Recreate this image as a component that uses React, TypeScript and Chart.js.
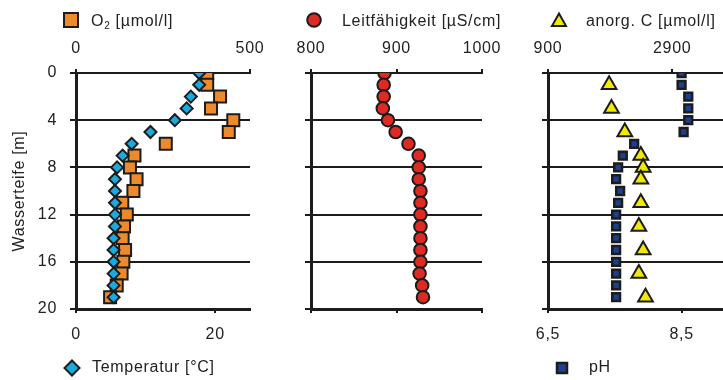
import React, { useEffect, useRef } from 'react';
import { Chart, registerables } from 'chart.js';

Chart.register(...registerables);

// ---- data ----
const DEPTH = [0, 1, 2, 3, 4, 5, 6, 7, 8, 9, 10, 11, 12, 13, 14, 15, 16, 17, 18, 19];
const DEPTH_TICKS = [0, 4, 8, 12, 16, 20];

const O2_UMOL = [377, 377, 414, 388, 452, 439, 258, 168, 155, 174, 165, 133, 146, 138, 134, 141, 136, 131, 117, 98];
const TEMP_C = [17.7, 17.7, 16.5, 15.9, 14.2, 10.7, 8.0, 6.7, 5.9, 5.6, 5.6, 5.6, 5.6, 5.6, 5.4, 5.4, 5.4, 5.4, 5.4, 5.4];
const COND_US = [886, 885, 885, 884, 890, 899, 914, 926, 926, 926, 928, 928, 928, 928, 928, 928, 928, 927, 930, 931];
const C_DEPTH = [1, 3, 5, 7, 8, 9, 11, 13, 15, 17, 19];
const ANORG_C = [1884, 1922, 2137, 2395, 2432, 2395, 2395, 2363, 2432, 2363, 2470];
const PH = [8.5, 8.5, 8.6, 8.6, 8.6, 8.53, 7.79, 7.62, 7.55, 7.52, 7.58, 7.55, 7.52, 7.52, 7.52, 7.52, 7.52, 7.52, 7.52, 7.52];

const O2_TICKS = [0, 500];
const TEMP_TICKS = [0, 20];
const COND_TICKS = [800, 900, 1000];
const C_TICKS = [900, 2900];
const PH_TICKS = [6.5, 8.5];

// ---- styles ----
const FONT = '"Liberation Sans", Arial, Helvetica, sans-serif';
const INK = '#1c1c1c';
const TXT = '#222222';
const SP = '0.7px';
const ORANGE = '#EF8A2C';
const CYAN = '#1BA9DE';
const RED = '#DF2A24';
const YELLOW = '#F2EA05';
const BLUE = '#1E3F8C';

const W = 723;
const H = 380;

const spacingPlugin = {
  id: 'letterSpacingPlugin',
  beforeLayout(c: any) { c.ctx.letterSpacing = SP; },
  beforeDraw(c: any) { c.ctx.letterSpacing = SP; },
};

const pts = (xs: number[], ys: number[]) => xs.map((x, i) => ({ x, y: ys[i] }));
const fixedTicks = (vals: number[]) => (scale: any) => { scale.ticks = vals.map((v) => ({ value: v })); };
const fmt = (v: any) => String(v).replace('.', ',');
const font = { family: FONT, size: 16 };

function xAxis(position: 'top' | 'bottom', min: number, max: number, ticks: number[], showLabels: boolean) {
  return {
    type: 'linear',
    position,
    min,
    max,
    afterBuildTicks: fixedTicks(ticks),
    afterFit: (s: any) => {
      s.height = position === 'top' ? 73 : H - 309;
      s.paddingLeft = 0;
      s.paddingRight = 0;
    },
    grid: { display: true, drawOnChartArea: false, drawTicks: true, tickLength: 4, color: INK, lineWidth: 2 },
    border: { display: true, color: INK, width: position === 'top' ? 2 : 3 },
    ticks: {
      display: showLabels,
      padding: position === 'top' ? 11 : 12,
      color: TXT,
      font,
      maxRotation: 0,
      autoSkip: false,
      callback: fmt,
    },
  };
}

function yAxis(width: number, showLabels: boolean) {
  return {
    type: 'linear',
    position: 'left',
    reverse: true,
    min: 0,
    max: 20,
    afterBuildTicks: fixedTicks(DEPTH_TICKS),
    afterFit: (s: any) => {
      s.width = width;
      s.paddingTop = 0;
      s.paddingBottom = 0;
    },
    grid: { color: INK, lineWidth: 2, drawTicks: true, tickLength: 6 },
    border: { display: true, color: INK, width: 3 },
    ticks: { display: showLabels, padding: 13, color: TXT, font, callback: fmt },
    title: {
      display: showLabels,
      text: 'Wasserteife [m]',
      color: TXT,
      font,
      padding: { top: 10, bottom: 0 },
    },
  };
}

function baseOptions(padLeft: number, padRight: number, scales: any) {
  return {
    animation: false,
    responsive: false,
    events: [],
    layout: { autoPadding: false, padding: { left: padLeft, right: padRight, top: 0, bottom: 0 } },
    plugins: { legend: { display: false }, tooltip: { enabled: false } },
    scales,
  };
}

function makeConfigs() {
  const left = {
    type: 'scatter',
    data: {
      datasets: [
        {
          label: 'Temperatur [°C]',
          data: pts(TEMP_C, DEPTH),
          xAxisID: 'x2',
          yAxisID: 'y',
          pointStyle: 'rectRot',
          pointRadius: 6,
          backgroundColor: CYAN,
          borderColor: INK,
          borderWidth: 2,
        },
        {
          label: 'O2 [µmol/l]',
          data: pts(O2_UMOL, DEPTH),
          xAxisID: 'x',
          yAxisID: 'y',
          pointStyle: 'rect',
          pointRadius: 8.5,
          backgroundColor: ORANGE,
          borderColor: INK,
          borderWidth: 2,
        },
      ],
    },
    options: baseOptions(0, W - 250, {
      x: xAxis('top', 0, 500, O2_TICKS, true),
      x2: xAxis('bottom', 0, 25, TEMP_TICKS, true),
      y: yAxis(76, true),
    }),
    plugins: [spacingPlugin],
  };

  const mid = {
    type: 'scatter',
    data: {
      datasets: [
        {
          label: 'Leitfähigkeit [µS/cm]',
          data: pts(COND_US, DEPTH),
          xAxisID: 'x',
          yAxisID: 'y',
          pointStyle: 'circle',
          pointRadius: 6.3,
          backgroundColor: RED,
          borderColor: INK,
          borderWidth: 2,
        },
      ],
    },
    options: baseOptions(311 - 20, W - 482, {
      x: xAxis('top', 800, 1000, COND_TICKS, true),
      x2: xAxis('bottom', 800, 1000, COND_TICKS, false),
      y: yAxis(20, false),
    }),
    plugins: [spacingPlugin],
  };

  const right = {
    type: 'scatter',
    data: {
      datasets: [
        {
          label: 'pH',
          data: pts(PH, DEPTH),
          xAxisID: 'x2',
          yAxisID: 'y',
          pointStyle: 'rect',
          pointRadius: 5.5,
          backgroundColor: BLUE,
          borderColor: INK,
          borderWidth: 2.5,
        },
        {
          label: 'anorg. C [µmol/l]',
          data: pts(ANORG_C, C_DEPTH),
          xAxisID: 'x',
          yAxisID: 'y',
          pointStyle: 'triangle',
          pointRadius: 8.5,
          backgroundColor: YELLOW,
          borderColor: INK,
          borderWidth: 2,
        },
      ],
    },
    options: baseOptions(548 - 20, 0, {
      x: xAxis('top', 900, 3718, C_TICKS, true),
      x2: xAxis('bottom', 6.5, 9.12, PH_TICKS, true),
      y: yAxis(20, false),
    }),
    plugins: [spacingPlugin],
  };

  return [left, mid, right];
}

function Marker({ kind }: { kind: string }) {
  const s = { stroke: INK, strokeWidth: 2 };
  let shape: any = null;
  if (kind === 'square') shape = <rect x={3} y={3} width={14} height={14} fill={ORANGE} {...s} />;
  if (kind === 'circle') shape = <circle cx={10} cy={10} r={6.8} fill={RED} {...s} />;
  if (kind === 'triangle') shape = <polygon points="10,3.5 17,16 3,16" fill={YELLOW} {...s} strokeLinejoin="miter" />;
  if (kind === 'diamond') shape = <polygon points="10,2.5 17.5,10 10,17.5 2.5,10" fill={CYAN} {...s} />;
  if (kind === 'small') shape = <rect x={5} y={5} width={10} height={10} fill={BLUE} stroke={INK} strokeWidth={2.5} />;
  return <svg width={20} height={20} style={{ display: 'block' }}>{shape}</svg>;
}

const LEGEND = [
  { kind: 'square', mx: 71, my: 20, tx: 91, ty: 21, text: 'O2' },
  { kind: 'circle', mx: 314, my: 20, tx: 342, ty: 21, text: 'Leitfähigkeit [µS/cm]' },
  { kind: 'triangle', mx: 559, my: 20, tx: 586, ty: 21, text: 'anorg. C [µmol/l]' },
  { kind: 'diamond', mx: 72, my: 368, tx: 92, ty: 367, text: 'Temperatur [°C]' },
  { kind: 'small', mx: 562, my: 368, tx: 589, ty: 367, text: 'pH' },
];

export default function App() {
  const r1 = useRef<HTMLCanvasElement>(null);
  const r2 = useRef<HTMLCanvasElement>(null);
  const r3 = useRef<HTMLCanvasElement>(null);

  useEffect(() => {
    document.body.style.margin = '0';
    const cfgs = makeConfigs();
    const refs = [r1, r2, r3];
    const charts = cfgs.map((cfg, i) => new Chart(refs[i].current as HTMLCanvasElement, cfg as any));
    return () => charts.forEach((c) => c.destroy());
  }, []);

  const canvasStyle: any = { position: 'absolute', left: 0, top: 0, width: W, height: H };

  return (
    <div style={{ position: 'absolute', left: 0, top: 0, width: W, height: H, background: '#fff', overflow: 'hidden', fontFamily: FONT }}>
      <canvas ref={r1} width={W} height={H} style={canvasStyle} />
      <canvas ref={r2} width={W} height={H} style={canvasStyle} />
      <canvas ref={r3} width={W} height={H} style={canvasStyle} />
      {LEGEND.map((l) => (
        <React.Fragment key={l.text}>
          <div style={{ position: 'absolute', left: l.mx - 10, top: l.my - 10 }}>
            <Marker kind={l.kind} />
          </div>
          <div
            style={{
              position: 'absolute',
              left: l.tx,
              top: l.ty - 10,
              fontSize: 16,
              lineHeight: '20px',
              letterSpacing: SP,
              color: TXT,
              whiteSpace: 'nowrap',
            }}
          >
            {l.text === 'O2' ? (
              <span>
                O<span style={{ fontSize: 10, position: 'relative', top: 3 }}>2</span> [µmol/l]
              </span>
            ) : (
              l.text
            )}
          </div>
        </React.Fragment>
      ))}
    </div>
  );
}
